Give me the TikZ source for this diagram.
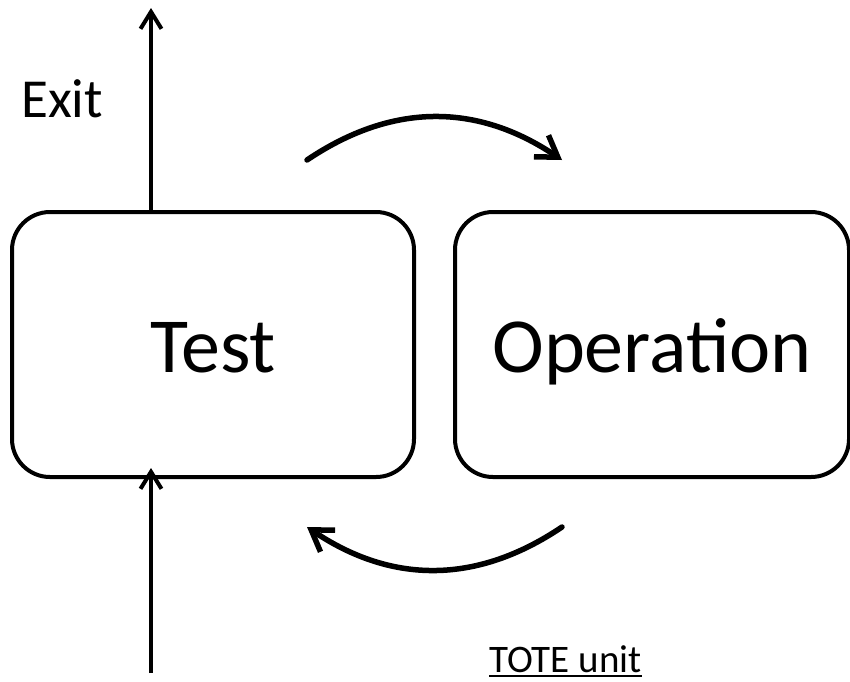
\documentclass[tikz,border=0pt]{standalone}
\usepackage{fontspec}
\setmainfont{Carlito}
\usetikzlibrary{arrows.meta}
\newcommand{\myuline}[1]{\setbox0\hbox{#1}\rlap{\rule[-5pt]{\wd0}{1.8pt}}\box0}
\begin{document}
\begin{tikzpicture}[x=1pt,y=-1pt,
  box/.style={draw, line width=4pt, rounded corners=38pt, inner sep=0pt,
    minimum height=265pt, text height=55pt, text depth=0pt,
    font=\fontsize{78}{90}\selectfont},
  vline/.style={line width=4pt, -{Straight Barb[length=17pt,width=21pt,line width=4pt]}},
  curve/.style={line width=5.5pt, line cap=round, -{Straight Barb[length=20pt,width=26pt,line width=5.5pt]}}
]
\useasboundingbox (0,0) rectangle (850,681);
\node[box, minimum width=402pt] (test) at (213,344.5) {Test};
\node[box, minimum width=394pt] (op) at (652,344.5) {Operation};
\coordinate (exit) at (151,8);
\coordinate (in) at (151,673);
\coordinate (intip) at (151,468);
\draw[vline] (test.north -| exit) -- (exit);
\draw[vline] (in) -- (intip);
\node[anchor=base west, inner sep=0pt, font=\fontsize{55}{66}\selectfont] (exitlbl) at (21,117) {Exit};
\node[anchor=base west, inner sep=0pt, font=\fontsize{39}{47}\selectfont] (tote) at (489,672)
  {\myuline{TOTE unit}};
\coordinate (a1) at (307,160);
\coordinate (a2) at (562,160);
\coordinate (b1) at (562,527);
\coordinate (b2) at (307,527);
\draw[curve] (a1) .. controls (392,102.7) and (477,102.7) .. (a2);
\draw[curve] (b1) .. controls (477,584.3) and (392,584.3) .. (b2);
\end{tikzpicture}
\end{document}
